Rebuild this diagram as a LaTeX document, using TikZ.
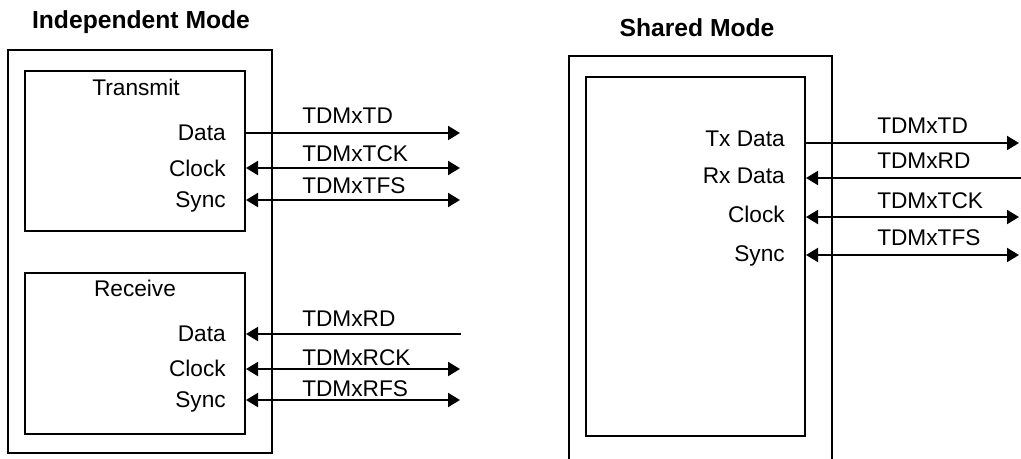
\documentclass[tikz,border=0pt]{standalone}
\usepackage{fontspec}
\setmainfont{Liberation Sans}
\usetikzlibrary{positioning,arrows.meta}

\begin{document}
\begin{tikzpicture}[x=0.75pt,y=-0.75pt,
				box/.style={draw, line width=1.5pt, inner sep=0pt},
				lbl/.style={anchor=base east, inner sep=0pt,
					font=\fontsize{17}{20}\selectfont},
				sig/.style={anchor=base west, inner sep=0pt,
					font=\fontsize{17}{20}\selectfont},
				ttl/.style={inner sep=0pt,
					font=\fontsize{18.5}{22}\selectfont\bfseries},
				oneway/.style={line width=1.5pt, -{Triangle[length=9pt,width=10.5pt]}},
				bidir/.style={line width=1.5pt,
					{Triangle[length=9pt,width=10.5pt]}-{Triangle[length=9pt,width=10.5pt]}},
				]
				\useasboundingbox (0,0) rectangle (1021,458);
				
				% independent mode
				\node[ttl] (t1) at (141,22) {Independent Mode};
				\node[box, minimum width=198pt, minimum height=302.25pt] (ind) at (140,251.5) {};
				\node[box, minimum width=165pt, minimum height=120pt] (tx) at (135,151) {};
				\node[box, minimum width=165pt, minimum height=120.75pt] (rx) at (135,353.5) {};
				\node[lbl, anchor=base] (txname) at (136,95) {Transmit};
				\node[lbl, anchor=base] (rxname) at (135,296) {Receive};
				
				\node[lbl] (txd) at (226,140) {Data};
				\node[lbl] (txc) at (226,176) {Clock};
				\node[lbl] (txs) at (226,207) {Sync};
				\node[lbl] (rxd) at (226,341) {Data};
				\node[lbl] (rxc) at (226,376) {Clock};
				\node[lbl] (rxs) at (226,407) {Sync};
				
				\coordinate (tdend) at (460,133);
				\coordinate (tckend) at (460,168);
				\coordinate (tfsend) at (460,200);
				\coordinate (rdend) at (461,334);
				\coordinate (rckend) at (460,369);
				\coordinate (rfsend) at (460,400);
				
				\draw[oneway] (tx.east |- tdend) -- (tdend);
				\draw[bidir] (tx.east |- tckend) -- (tckend);
				\draw[bidir] (tx.east |- tfsend) -- (tfsend);
				\draw[oneway] (rdend) -- (rx.east |- rdend);
				\draw[bidir] (rx.east |- rckend) -- (rckend);
				\draw[bidir] (rx.east |- rfsend) -- (rfsend);
				
				\node[sig] (ntd) at (302,123) {TDMxTD};
				\node[sig] (ntck) at (302,161) {TDMxTCK};
				\node[sig] (ntfs) at (302,193) {TDMxTFS};
				\node[sig] (nrd) at (302,326) {TDMxRD};
				\node[sig] (nrck) at (302,365) {TDMxRCK};
				\node[sig] (nrfs) at (302,396) {TDMxRFS};
				
				% shared mode
				\node[ttl] (t2) at (697,28) {Shared Mode};
				\draw[line width=1.5pt] (569,462) -- (569,56) -- (832,56) -- (832,462);
				\node[box, minimum width=164.25pt, minimum height=269.25pt] (sh) at (695.5,256.5) {};
				
				\node[lbl] (shtd) at (785,146) {Tx Data};
				\node[lbl] (shrd) at (785,183) {Rx Data};
				\node[lbl] (shc) at (785,222) {Clock};
				\node[lbl] (shs) at (785,261) {Sync};
				
				\coordinate (stdend) at (1019,143);
				\coordinate (srdend) at (1022,178);
				\coordinate (stckend) at (1019,217);
				\coordinate (stfsend) at (1019,255);
				
				\draw[oneway] (sh.east |- stdend) -- (stdend);
				\draw[oneway] (srdend) -- (sh.east |- srdend);
				\draw[bidir] (sh.east |- stckend) -- (stckend);
				\draw[bidir] (sh.east |- stfsend) -- (stfsend);
				
				\node[sig] (nstd) at (877,133) {TDMxTD};
				\node[sig] (nsrd) at (877,168) {TDMxRD};
				\node[sig] (nstck) at (877,208) {TDMxTCK};
				\node[sig] (nstfs) at (877,245) {TDMxTFS};
			\end{tikzpicture}
\end{document}
